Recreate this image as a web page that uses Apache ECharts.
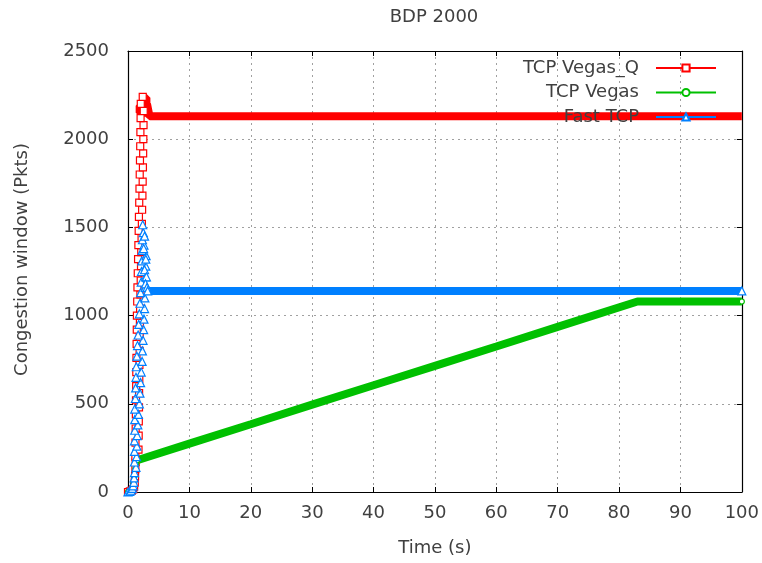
<!DOCTYPE html>
<html>
<head>
<meta charset="utf-8">
<title>BDP 2000</title>
<script src="https://cdn.jsdelivr.net/npm/echarts@6/dist/echarts.min.js"></script>
<style>
  html, body { margin: 0; padding: 0; background: #ffffff; }
  #chart { width: 762px; height: 563px; }
</style>
</head>
<body>
<div id="chart"></div>
<script>
// Axis ranges and ticks
const xTicks = { min: 0, max: 100, step: 10 };
const yTicks = { min: 0, max: 2500, step: 500 };

const seriesNames = ['TCP Vegas_Q', 'TCP Vegas', 'Fast TCP'];

// TCP Vegas_Q: slow-start samples [time (s), cwnd (pkts)]
const vegasQRamp = [
  [0.0, 0], [0.3, 3], [0.6, 8], [0.85, 15], [1.0, 30], [1.1, 55], [1.15, 90], [1.2, 130], [1.25, 170],
  [1.20, 200], [1.71, 240], [1.22, 280], [1.74, 320], [1.25, 360], [1.76, 400], [1.28, 440],
  [1.79, 480], [1.30, 520], [1.81, 560], [1.33, 600], [1.84, 640], [1.35, 680], [1.86, 720],
  [1.38, 760], [1.89, 800], [1.40, 840], [1.91, 880], [1.43, 920], [1.94, 960], [1.45, 1000],
  [1.97, 1040], [1.50, 1080], [2.02, 1120], [1.54, 1160], [2.07, 1200], [1.59, 1240],
  [2.12, 1280], [1.64, 1320], [2.16, 1360], [1.69, 1400], [2.21, 1440], [1.74, 1480],
  [2.26, 1520], [1.78, 1560], [2.30, 1600], [1.83, 1640], [2.35, 1680], [1.87, 1720],
  [2.39, 1760], [1.91, 1800], [2.43, 1840], [1.95, 1880], [2.47, 1920], [1.99, 1960],
  [2.50, 2000], [2.02, 2040], [2.53, 2080], [2.05, 2120], [2.56, 2160], [2.08, 2200],
  [2.40, 2240]
];
// overshoot plateau (swinging between 2150 and 2235), step down, then steady window
const vegasQLevel = [
  [1.9, 2235], [3.0, 2235], [3.0, 2190], [1.9, 2190], [1.9, 2150], [3.0, 2150],
  [3.1, 2200], [3.35, 2195], [3.5, 2130], [100, 2130]
];

// TCP Vegas: start-up samples, then a slow linear climb that levels off
const vegasRamp = [
  [0.0, 0], [0.4, 5], [0.7, 20], [0.9, 50], [1.05, 90], [1.2, 130], [1.35, 160], [1.5, 180]
];
const vegasLevel = [
  [1.5, 180], [10, 274], [20, 384], [30, 495], [40, 605], [50, 715], [60, 825], [70, 936],
  [83, 1080], [100, 1080]
];
const vegasEnd = [[100, 1080]];

// Fast TCP: oscillating ramp up to a peak, then steady window
const fastRamp = [
  [0.0, 0], [0.3, 4], [0.5, 10], [0.7, 20], [0.85, 35], [0.95, 55], [1.0, 80], [1.05, 110],
  [1.3, 140], [1.05, 170], [1.4, 200], [1.05, 230], [1.45, 260], [1.05, 290], [1.5, 320],
  [1.1, 350], [1.6, 380], [1.1, 410], [1.7, 440], [1.1, 470], [1.85, 500], [1.2, 530],
  [1.95, 560], [1.25, 590], [2.05, 620], [1.3, 650], [2.15, 680], [1.35, 710], [2.3, 740],
  [1.45, 770], [2.35, 800], [1.55, 830], [2.45, 860], [1.65, 890], [2.55, 920], [1.75, 950],
  [2.6, 980], [1.85, 1010], [2.7, 1040], [1.95, 1070], [2.75, 1100], [2.05, 1130], [2.8, 1160],
  [2.15, 1190], [2.85, 1220], [2.2, 1250], [2.9, 1280], [2.25, 1310], [2.95, 1340], [2.3, 1370],
  [2.6, 1400], [2.35, 1430], [2.5, 1470], [2.4, 1515], [2.7, 1450], [2.55, 1380], [2.9, 1320],
  [2.7, 1260], [3.0, 1220], [2.85, 1180], [3.1, 1160], [3.2, 1140]
];
const fastLevel = [[3.2, 1140], [100, 1140]];
const fastEnd = [[100, 1140]];

const colors = { vegasQ: '#ff0000', vegas: '#00c000', fast: '#0080ff' };

const textColor = '#404040';
const fontFamily = '"DejaVu Sans", Verdana, sans-serif';

const chart = echarts.init(document.getElementById('chart'), null, { renderer: 'canvas' });

function markSeries(name, data, color, symbol, size, showLine) {
  return {
    name: name,
    type: 'line',
    data: data,
    xAxisIndex: 0,
    yAxisIndex: 0,
    symbol: symbol,
    symbolSize: size,
    showSymbol: true,
    showAllSymbol: true,
    lineStyle: { color: color, width: showLine === false ? 0 : 1.2 },
    itemStyle: { color: '#ffffff', borderColor: color, borderWidth: 1.2 },
    emphasis: { disabled: true },
    z: 3
  };
}

function levelSeries(data, color) {
  return {
    name: '_level',
    type: 'line',
    data: data,
    xAxisIndex: 0,
    yAxisIndex: 0,
    showSymbol: false,
    symbol: 'none',
    lineStyle: { color: color, width: 8 },
    emphasis: { disabled: true },
    z: 3
  };
}

const boxAxisLine = { show: true, onZero: false, lineStyle: { color: '#000000', width: 1.2 } };
const insideTick = { show: true, inside: true, length: 5, lineStyle: { color: '#000000', width: 1 } };
const gridLine = { show: true, lineStyle: { color: '#a0a0a0', width: 1, type: [2, 4] } };

const option = {
  animation: false,
  backgroundColor: '#ffffff',
  title: {
    text: 'BDP 2000',
    left: 429,
    textAlign: 'center',
    top: 3,
    textStyle: { color: textColor, fontFamily: fontFamily, fontSize: 18, fontWeight: 'normal' }
  },
  legend: {
    data: seriesNames,
    orient: 'vertical',
    align: 'right',
    right: 45,
    top: 59,
    padding: 0,
    itemWidth: 60,
    itemHeight: 9,
    itemGap: 6.5,
    selectedMode: false,
    textStyle: { color: textColor, fontFamily: fontFamily, fontSize: 18, padding: [0, 12, 0, 0] }
  },
  grid: { left: 128, right: 19, top: 51, bottom: 71, containLabel: false },
  xAxis: [
    {
      type: 'value',
      min: xTicks.min, max: xTicks.max, interval: xTicks.step,
      position: 'bottom',
      name: 'Time (s)',
      nameLocation: 'middle',
      nameGap: 47,
      nameTextStyle: { color: textColor, fontFamily: fontFamily, fontSize: 18 },
      axisLine: boxAxisLine,
      axisTick: insideTick,
      axisLabel: { color: textColor, fontFamily: fontFamily, fontSize: 18, margin: 12 },
      splitLine: gridLine
    },
    {
      type: 'value',
      min: xTicks.min, max: xTicks.max, interval: xTicks.step,
      position: 'top',
      axisLine: boxAxisLine,
      axisTick: insideTick,
      axisLabel: { show: false },
      splitLine: { show: false }
    }
  ],
  yAxis: [
    {
      type: 'value',
      min: yTicks.min, max: yTicks.max, interval: yTicks.step,
      position: 'left',
      name: 'Congestion window (Pkts)',
      nameLocation: 'middle',
      nameGap: 97,
      nameTextStyle: { color: textColor, fontFamily: fontFamily, fontSize: 18, padding: [0, 0, 0, 24] },
      axisLine: boxAxisLine,
      axisTick: insideTick,
      axisLabel: {
        color: textColor, fontFamily: fontFamily, fontSize: 18, margin: 19,
        formatter: function (v) { return String(v); }
      },
      splitLine: gridLine
    },
    {
      type: 'value',
      min: yTicks.min, max: yTicks.max, interval: yTicks.step,
      position: 'right',
      axisLine: boxAxisLine,
      axisTick: insideTick,
      axisLabel: { show: false },
      splitLine: { show: false }
    }
  ],
  series: [
    levelSeries(vegasQLevel, colors.vegasQ),
    markSeries(seriesNames[0], vegasQRamp, colors.vegasQ, 'rect', 7),
    levelSeries(vegasLevel, colors.vegas),
    markSeries(seriesNames[1], vegasRamp, colors.vegas, 'circle', 5),
    markSeries('_end', vegasEnd, colors.vegas, 'circle', 5, false),
    levelSeries(fastLevel, colors.fast),
    markSeries(seriesNames[2], fastRamp, colors.fast, 'triangle', 8),
    markSeries('_end', fastEnd, colors.fast, 'triangle', 8, false)
  ]
};

chart.setOption(option);
</script>
</body>
</html>
